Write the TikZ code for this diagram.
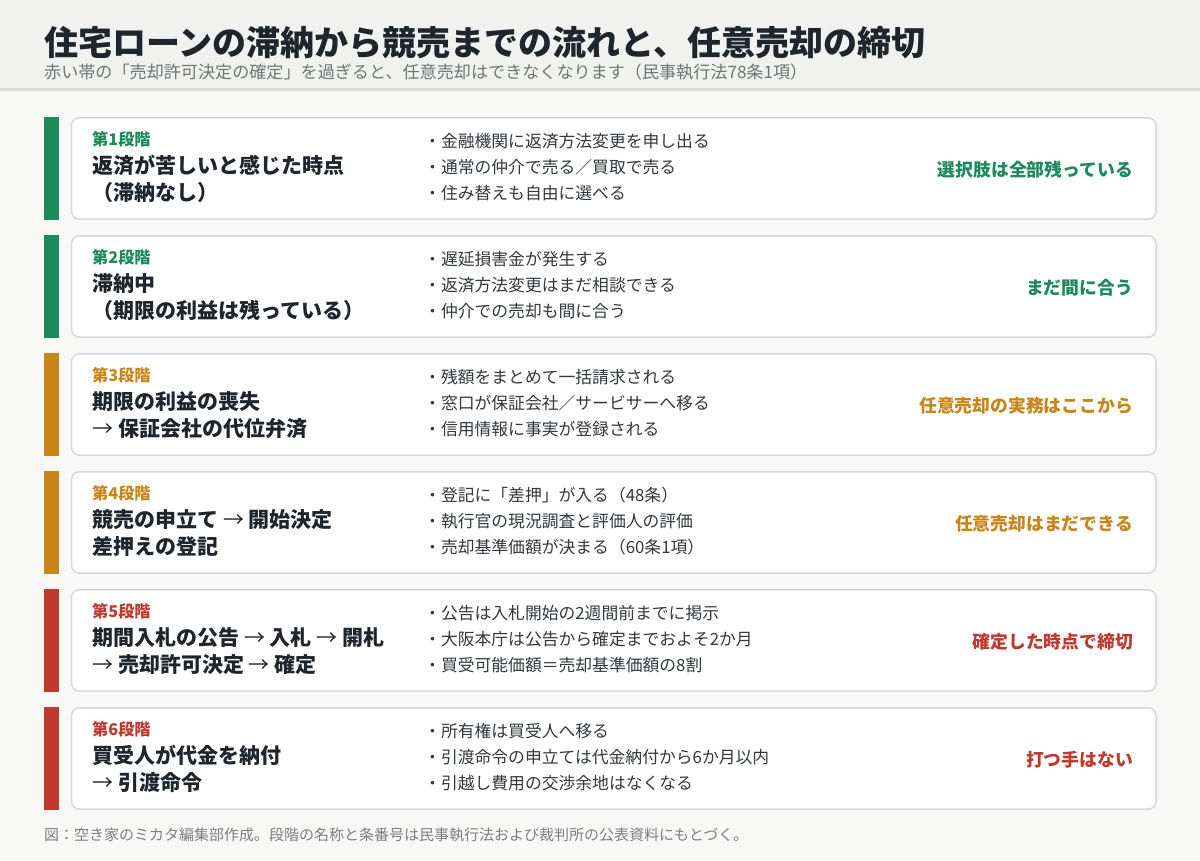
\documentclass[tikz,border=0pt]{standalone}
\usepackage{fontspec}
\setmainfont{Noto Sans CJK JP}
\newfontfamily\thinarrowfont{Noto Sans CJK JP Light}
\newcommand\myarrow{{\mdseries →}}
\definecolor{bg}{HTML}{F8F8F6}
\definecolor{hdr}{HTML}{F1F2F0}
\definecolor{hdrline}{HTML}{D9DDDC}
\definecolor{cardline}{HTML}{D5D9DD}
\definecolor{stgG}{HTML}{1C8A5A}
\definecolor{stgO}{HTML}{C8861A}
\definecolor{stgR}{HTML}{C0392F}
\definecolor{ink}{HTML}{1F252B}
\definecolor{bodyink}{HTML}{33383C}
\definecolor{subink}{HTML}{6E7674}
\definecolor{footink}{HTML}{7A8082}
\tikzset{
  titletext/.style={anchor=base west, inner sep=0pt, font=\fontsize{34}{40}\selectfont\bfseries, text=ink},
  subtext/.style={anchor=base west, inner sep=0pt, font=\fontsize{17.1}{20}\selectfont, text=subink},
  cardbox/.style={draw=cardline, line width=1.5pt, fill=white, rounded corners=8pt},
  stagelabel/.style={anchor=base west, inner sep=0pt, font=\fontsize{16.2}{19}\selectfont\bfseries},
  mainline/.style={anchor=base west, inner sep=0pt, font=\fontsize{21}{25}\selectfont\bfseries, text=ink},
  bullet/.style={anchor=base west, inner sep=0pt, font=\fontsize{16.8}{20}\selectfont, text=bodyink},
  verdict/.style={anchor=base east, inner sep=0pt, font=\fontsize{17.8}{21}\selectfont\bfseries},
  foottext/.style={anchor=base west, inner sep=0pt, font=\fontsize{15}{18}\selectfont, text=footink}
}
\begin{document}
\begin{tikzpicture}[x=1pt,y=-1pt]
\useasboundingbox (0,0) rectangle (1200,860);
\fill[bg] (0,0) rectangle (1200,860);
\fill[hdr] (0,0) rectangle (1200,88);
\fill[hdrline] (0,88) rectangle (1200,90.5);
\node[titletext] (title) at (44,55) {住宅ローンの滞納から競売までの流れと、任意売却の締切};
\node[subtext] (subtitle) at (44,78) {赤い帯の「売却許可決定の確定」を過ぎると、任意売却はできなくなります（民事執行法78条1項）};
\foreach \i/\c/\la/\lb/\ba/\bb/\bc/\rt in {
  0/stgG/{返済が苦しいと感じた時点}/{（滞納なし）}/{・金融機関に返済方法変更を申し出る}/{・通常の仲介で売る／買取で売る}/{・住み替えも自由に選べる}/{選択肢は全部残っている},
  1/stgG/{滞納中}/{（期限の利益は残っている）}/{・遅延損害金が発生する}/{・返済方法変更はまだ相談できる}/{・仲介での売却も間に合う}/{まだ間に合う},
  2/stgO/{期限の利益の喪失}/{\myarrow\ 保証会社の代位弁済}/{・残額をまとめて一括請求される}/{・窓口が保証会社／サービサーへ移る}/{・信用情報に事実が登録される}/{任意売却の実務はここから},
  3/stgO/{競売の申立て \myarrow\ 開始決定}/{差押えの登記}/{・登記に「差押」が入る（48条）}/{・執行官の現況調査と評価人の評価}/{・売却基準価額が決まる（60条1項）}/{任意売却はまだできる},
  4/stgR/{期間入札の公告 \myarrow\ 入札 \myarrow\ 開札}/{\myarrow\ 売却許可決定 \myarrow\ 確定}/{・公告は入札開始の2週間前までに掲示}/{・大阪本庁は公告から確定までおよそ2か月}/{・買受可能価額＝売却基準価額の8割}/{確定した時点で締切},
  5/stgR/{買受人が代金を納付}/{\myarrow\ 引渡命令}/{・所有権は買受人へ移る}/{・引渡命令の申立ては代金納付から6か月以内}/{・引越し費用の交渉余地はなくなる}/{打つ手はない}
}{
  \pgfmathsetmacro{\T}{117+118*\i}
  \pgfmathtruncatemacro{\n}{\i+1}
  \fill[\c] (44,\T) rectangle (59,\T+103) coordinate (bar\n);
  \draw[cardbox] (71.5,\T+0.8) rectangle (1156,\T+102.2) coordinate (card\n);
  \node[stagelabel, text=\c] (stage\n) at (92,\T+28) {第\n 段階};
  \node[mainline] (main\n a) at (92,\T+56) {\la};
  \node[mainline] (main\n b) at (92,\T+83) {\lb};
  \node[bullet] (bul\n a) at (424,\T+30) {\ba};
  \node[bullet] (bul\n b) at (424,\T+56) {\bb};
  \node[bullet] (bul\n c) at (424,\T+82) {\bc};
  \node[verdict, text=\c] (verdict\n) at (1133,\T+59) {\rt};
}
\node[foottext] (footer) at (44,840) {図：空き家のミカタ編集部作成。段階の名称と条番号は民事執行法および裁判所の公表資料にもとづく。};
\end{tikzpicture}
\end{document}
